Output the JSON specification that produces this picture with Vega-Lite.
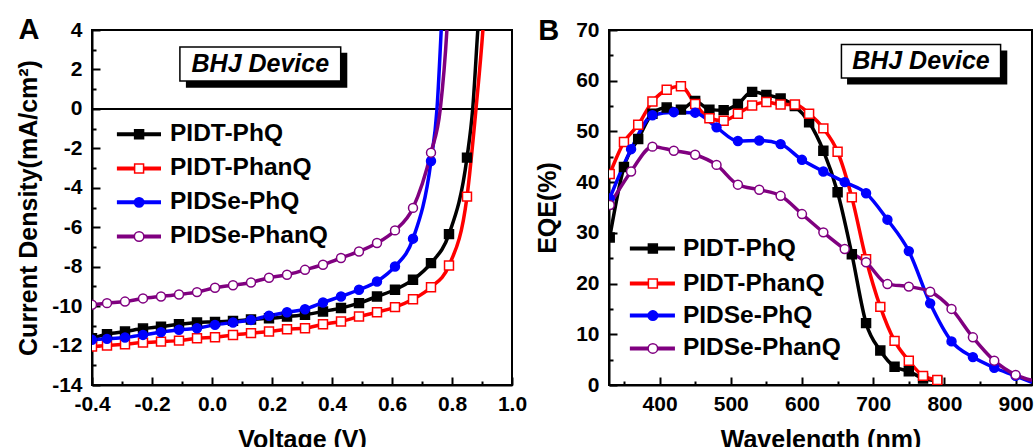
{
  "$schema": "https://vega.github.io/schema/vega-lite/v6.json",
  "background": "white",
  "padding": {"left": 15, "top": 15, "right": 0, "bottom": 0},
  "bounds": "flush",
  "spacing": 97,
  "resolve": {"scale": {"stroke": "independent"}, "legend": {"stroke": "independent"}},
  "config": {
    "font": "Liberation Sans",
    "view": {"stroke": "black", "strokeWidth": 2},
    "axis": {
      "labelFont": "Liberation Sans", "labelFontWeight": "bold", "labelFontSize": 21, "labelColor": "black",
      "titleFont": "Liberation Sans", "titleFontWeight": "bold", "titleFontSize": 25, "titleColor": "black",
      "domainColor": "black", "domainWidth": 2, "tickColor": "black", "tickWidth": 2,
      "grid": false, "labelOverlap": false, "labelFlush": false
    }
  },
  "datasets": {
    "jv": [
      {"series": "PIDT-PhQ", "V": -0.4, "J": -11.63, "marker": 1},
      {"series": "PIDT-PhQ", "V": -0.35, "J": -11.42, "marker": 1},
      {"series": "PIDT-PhQ", "V": -0.29, "J": -11.29, "marker": 1},
      {"series": "PIDT-PhQ", "V": -0.23, "J": -11.14, "marker": 1},
      {"series": "PIDT-PhQ", "V": -0.17, "J": -11.04, "marker": 1},
      {"series": "PIDT-PhQ", "V": -0.11, "J": -10.92, "marker": 1},
      {"series": "PIDT-PhQ", "V": -0.05, "J": -10.83, "marker": 1},
      {"series": "PIDT-PhQ", "V": 0.01, "J": -10.8, "marker": 1},
      {"series": "PIDT-PhQ", "V": 0.07, "J": -10.75, "marker": 1},
      {"series": "PIDT-PhQ", "V": 0.13, "J": -10.68, "marker": 1},
      {"series": "PIDT-PhQ", "V": 0.19, "J": -10.62, "marker": 1},
      {"series": "PIDT-PhQ", "V": 0.25, "J": -10.53, "marker": 1},
      {"series": "PIDT-PhQ", "V": 0.31, "J": -10.44, "marker": 1},
      {"series": "PIDT-PhQ", "V": 0.37, "J": -10.27, "marker": 1},
      {"series": "PIDT-PhQ", "V": 0.43, "J": -10.1, "marker": 1},
      {"series": "PIDT-PhQ", "V": 0.49, "J": -9.85, "marker": 1},
      {"series": "PIDT-PhQ", "V": 0.55, "J": -9.51, "marker": 1},
      {"series": "PIDT-PhQ", "V": 0.61, "J": -9.17, "marker": 1},
      {"series": "PIDT-PhQ", "V": 0.67, "J": -8.66, "marker": 1},
      {"series": "PIDT-PhQ", "V": 0.73, "J": -7.82, "marker": 1},
      {"series": "PIDT-PhQ", "V": 0.79, "J": -6.35, "marker": 1},
      {"series": "PIDT-PhQ", "V": 0.85, "J": -2.47, "marker": 1},
      {"series": "PIDT-PhQ", "V": 0.869, "J": 0, "marker": 0},
      {"series": "PIDT-PhQ", "V": 0.886, "J": 4, "marker": 0},
      {"series": "PIDT-PhQ", "V": 0.895, "J": 6, "marker": 0},
      {"series": "PIDT-PhanQ", "V": -0.4, "J": -12.05, "marker": 1},
      {"series": "PIDT-PhanQ", "V": -0.35, "J": -12.0, "marker": 1},
      {"series": "PIDT-PhanQ", "V": -0.29, "J": -11.93, "marker": 1},
      {"series": "PIDT-PhanQ", "V": -0.23, "J": -11.85, "marker": 1},
      {"series": "PIDT-PhanQ", "V": -0.17, "J": -11.8, "marker": 1},
      {"series": "PIDT-PhanQ", "V": -0.11, "J": -11.75, "marker": 1},
      {"series": "PIDT-PhanQ", "V": -0.05, "J": -11.63, "marker": 1},
      {"series": "PIDT-PhanQ", "V": 0.01, "J": -11.58, "marker": 1},
      {"series": "PIDT-PhanQ", "V": 0.07, "J": -11.46, "marker": 1},
      {"series": "PIDT-PhanQ", "V": 0.13, "J": -11.37, "marker": 1},
      {"series": "PIDT-PhanQ", "V": 0.19, "J": -11.29, "marker": 1},
      {"series": "PIDT-PhanQ", "V": 0.25, "J": -11.17, "marker": 1},
      {"series": "PIDT-PhanQ", "V": 0.31, "J": -11.12, "marker": 1},
      {"series": "PIDT-PhanQ", "V": 0.37, "J": -10.92, "marker": 1},
      {"series": "PIDT-PhanQ", "V": 0.43, "J": -10.78, "marker": 1},
      {"series": "PIDT-PhanQ", "V": 0.49, "J": -10.53, "marker": 1},
      {"series": "PIDT-PhanQ", "V": 0.55, "J": -10.31, "marker": 1},
      {"series": "PIDT-PhanQ", "V": 0.61, "J": -10.05, "marker": 1},
      {"series": "PIDT-PhanQ", "V": 0.67, "J": -9.65, "marker": 1},
      {"series": "PIDT-PhanQ", "V": 0.73, "J": -9.04, "marker": 1},
      {"series": "PIDT-PhanQ", "V": 0.79, "J": -7.94, "marker": 1},
      {"series": "PIDT-PhanQ", "V": 0.85, "J": -4.45, "marker": 1},
      {"series": "PIDT-PhanQ", "V": 0.88, "J": 0, "marker": 0},
      {"series": "PIDT-PhanQ", "V": 0.903, "J": 4, "marker": 0},
      {"series": "PIDT-PhanQ", "V": 0.912, "J": 6, "marker": 0},
      {"series": "PIDSe-PhQ", "V": -0.4, "J": -11.71, "marker": 1},
      {"series": "PIDSe-PhQ", "V": -0.35, "J": -11.66, "marker": 1},
      {"series": "PIDSe-PhQ", "V": -0.29, "J": -11.59, "marker": 1},
      {"series": "PIDSe-PhQ", "V": -0.23, "J": -11.46, "marker": 1},
      {"series": "PIDSe-PhQ", "V": -0.17, "J": -11.32, "marker": 1},
      {"series": "PIDSe-PhQ", "V": -0.11, "J": -11.2, "marker": 1},
      {"series": "PIDSe-PhQ", "V": -0.05, "J": -11.12, "marker": 1},
      {"series": "PIDSe-PhQ", "V": 0.01, "J": -10.95, "marker": 1},
      {"series": "PIDSe-PhQ", "V": 0.07, "J": -10.83, "marker": 1},
      {"series": "PIDSe-PhQ", "V": 0.13, "J": -10.7, "marker": 1},
      {"series": "PIDSe-PhQ", "V": 0.19, "J": -10.49, "marker": 1},
      {"series": "PIDSe-PhQ", "V": 0.25, "J": -10.31, "marker": 1},
      {"series": "PIDSe-PhQ", "V": 0.31, "J": -10.16, "marker": 1},
      {"series": "PIDSe-PhQ", "V": 0.37, "J": -9.82, "marker": 1},
      {"series": "PIDSe-PhQ", "V": 0.43, "J": -9.51, "marker": 1},
      {"series": "PIDSe-PhQ", "V": 0.49, "J": -9.17, "marker": 1},
      {"series": "PIDSe-PhQ", "V": 0.55, "J": -8.75, "marker": 1},
      {"series": "PIDSe-PhQ", "V": 0.61, "J": -7.99, "marker": 1},
      {"series": "PIDSe-PhQ", "V": 0.67, "J": -6.58, "marker": 1},
      {"series": "PIDSe-PhQ", "V": 0.73, "J": -2.64, "marker": 1},
      {"series": "PIDSe-PhQ", "V": 0.75, "J": 0, "marker": 0},
      {"series": "PIDSe-PhQ", "V": 0.764, "J": 4, "marker": 0},
      {"series": "PIDSe-PhQ", "V": 0.77, "J": 6, "marker": 0},
      {"series": "PIDSe-PhanQ", "V": -0.4, "J": -9.93, "marker": 1},
      {"series": "PIDSe-PhanQ", "V": -0.35, "J": -9.85, "marker": 1},
      {"series": "PIDSe-PhanQ", "V": -0.29, "J": -9.77, "marker": 1},
      {"series": "PIDSe-PhanQ", "V": -0.23, "J": -9.61, "marker": 1},
      {"series": "PIDSe-PhanQ", "V": -0.17, "J": -9.51, "marker": 1},
      {"series": "PIDSe-PhanQ", "V": -0.11, "J": -9.41, "marker": 1},
      {"series": "PIDSe-PhanQ", "V": -0.05, "J": -9.29, "marker": 1},
      {"series": "PIDSe-PhanQ", "V": 0.01, "J": -9.07, "marker": 1},
      {"series": "PIDSe-PhanQ", "V": 0.07, "J": -8.94, "marker": 1},
      {"series": "PIDSe-PhanQ", "V": 0.13, "J": -8.8, "marker": 1},
      {"series": "PIDSe-PhanQ", "V": 0.19, "J": -8.56, "marker": 1},
      {"series": "PIDSe-PhanQ", "V": 0.25, "J": -8.41, "marker": 1},
      {"series": "PIDSe-PhanQ", "V": 0.31, "J": -8.16, "marker": 1},
      {"series": "PIDSe-PhanQ", "V": 0.37, "J": -7.9, "marker": 1},
      {"series": "PIDSe-PhanQ", "V": 0.43, "J": -7.56, "marker": 1},
      {"series": "PIDSe-PhanQ", "V": 0.49, "J": -7.23, "marker": 1},
      {"series": "PIDSe-PhanQ", "V": 0.55, "J": -6.8, "marker": 1},
      {"series": "PIDSe-PhanQ", "V": 0.61, "J": -6.16, "marker": 1},
      {"series": "PIDSe-PhanQ", "V": 0.67, "J": -5.02, "marker": 1},
      {"series": "PIDSe-PhanQ", "V": 0.73, "J": -2.22, "marker": 1},
      {"series": "PIDSe-PhanQ", "V": 0.761, "J": 0, "marker": 0},
      {"series": "PIDSe-PhanQ", "V": 0.783, "J": 4, "marker": 0},
      {"series": "PIDSe-PhanQ", "V": 0.79, "J": 6, "marker": 0}
    ],
    "eqe": [
      {"series": "PIDT-PhQ", "nm": 330, "EQE": 29.1, "marker": 1},
      {"series": "PIDT-PhQ", "nm": 350, "EQE": 43.0, "marker": 1},
      {"series": "PIDT-PhQ", "nm": 370, "EQE": 48.5, "marker": 1},
      {"series": "PIDT-PhQ", "nm": 390, "EQE": 53.5, "marker": 1},
      {"series": "PIDT-PhQ", "nm": 410, "EQE": 54.7, "marker": 1},
      {"series": "PIDT-PhQ", "nm": 430, "EQE": 54.3, "marker": 1},
      {"series": "PIDT-PhQ", "nm": 450, "EQE": 56.0, "marker": 1},
      {"series": "PIDT-PhQ", "nm": 470, "EQE": 54.3, "marker": 1},
      {"series": "PIDT-PhQ", "nm": 490, "EQE": 54.2, "marker": 1},
      {"series": "PIDT-PhQ", "nm": 510, "EQE": 55.4, "marker": 1},
      {"series": "PIDT-PhQ", "nm": 530, "EQE": 57.8, "marker": 1},
      {"series": "PIDT-PhQ", "nm": 550, "EQE": 57.2, "marker": 1},
      {"series": "PIDT-PhQ", "nm": 570, "EQE": 56.5, "marker": 1},
      {"series": "PIDT-PhQ", "nm": 590, "EQE": 55.0, "marker": 1},
      {"series": "PIDT-PhQ", "nm": 610, "EQE": 51.8, "marker": 1},
      {"series": "PIDT-PhQ", "nm": 630, "EQE": 46.2, "marker": 1},
      {"series": "PIDT-PhQ", "nm": 650, "EQE": 38.0, "marker": 1},
      {"series": "PIDT-PhQ", "nm": 670, "EQE": 25.8, "marker": 1},
      {"series": "PIDT-PhQ", "nm": 690, "EQE": 12.2, "marker": 1},
      {"series": "PIDT-PhQ", "nm": 710, "EQE": 6.8, "marker": 1},
      {"series": "PIDT-PhQ", "nm": 730, "EQE": 3.6, "marker": 1},
      {"series": "PIDT-PhQ", "nm": 750, "EQE": 2.7, "marker": 1},
      {"series": "PIDT-PhQ", "nm": 770, "EQE": 1.3, "marker": 1},
      {"series": "PIDT-PhQ", "nm": 790, "EQE": 0.8, "marker": 1},
      {"series": "PIDT-PhanQ", "nm": 330, "EQE": 41.6, "marker": 1},
      {"series": "PIDT-PhanQ", "nm": 350, "EQE": 47.9, "marker": 1},
      {"series": "PIDT-PhanQ", "nm": 370, "EQE": 51.3, "marker": 1},
      {"series": "PIDT-PhanQ", "nm": 390, "EQE": 55.9, "marker": 1},
      {"series": "PIDT-PhanQ", "nm": 410, "EQE": 58.2, "marker": 1},
      {"series": "PIDT-PhanQ", "nm": 430, "EQE": 58.9, "marker": 1},
      {"series": "PIDT-PhanQ", "nm": 450, "EQE": 55.4, "marker": 1},
      {"series": "PIDT-PhanQ", "nm": 470, "EQE": 52.6, "marker": 1},
      {"series": "PIDT-PhanQ", "nm": 490, "EQE": 52.1, "marker": 1},
      {"series": "PIDT-PhanQ", "nm": 510, "EQE": 53.5, "marker": 1},
      {"series": "PIDT-PhanQ", "nm": 530, "EQE": 55.1, "marker": 1},
      {"series": "PIDT-PhanQ", "nm": 550, "EQE": 55.8, "marker": 1},
      {"series": "PIDT-PhanQ", "nm": 570, "EQE": 55.3, "marker": 1},
      {"series": "PIDT-PhanQ", "nm": 590, "EQE": 55.3, "marker": 1},
      {"series": "PIDT-PhanQ", "nm": 610, "EQE": 53.5, "marker": 1},
      {"series": "PIDT-PhanQ", "nm": 630, "EQE": 50.6, "marker": 1},
      {"series": "PIDT-PhanQ", "nm": 650, "EQE": 46.0, "marker": 1},
      {"series": "PIDT-PhanQ", "nm": 670, "EQE": 37.0, "marker": 1},
      {"series": "PIDT-PhanQ", "nm": 690, "EQE": 24.8, "marker": 1},
      {"series": "PIDT-PhanQ", "nm": 710, "EQE": 15.4, "marker": 1},
      {"series": "PIDT-PhanQ", "nm": 730, "EQE": 8.7, "marker": 1},
      {"series": "PIDT-PhanQ", "nm": 750, "EQE": 4.8, "marker": 1},
      {"series": "PIDT-PhanQ", "nm": 770, "EQE": 1.8, "marker": 1},
      {"series": "PIDT-PhanQ", "nm": 790, "EQE": 1.0, "marker": 1},
      {"series": "PIDSe-PhQ", "nm": 330, "EQE": 36.8, "marker": 1},
      {"series": "PIDSe-PhQ", "nm": 360, "EQE": 46.5, "marker": 1},
      {"series": "PIDSe-PhQ", "nm": 390, "EQE": 53.2, "marker": 1},
      {"series": "PIDSe-PhQ", "nm": 420, "EQE": 53.8, "marker": 1},
      {"series": "PIDSe-PhQ", "nm": 450, "EQE": 53.7, "marker": 1},
      {"series": "PIDSe-PhQ", "nm": 480, "EQE": 50.8, "marker": 1},
      {"series": "PIDSe-PhQ", "nm": 510, "EQE": 48.1, "marker": 1},
      {"series": "PIDSe-PhQ", "nm": 540, "EQE": 48.2, "marker": 1},
      {"series": "PIDSe-PhQ", "nm": 570, "EQE": 47.5, "marker": 1},
      {"series": "PIDSe-PhQ", "nm": 600, "EQE": 44.4, "marker": 1},
      {"series": "PIDSe-PhQ", "nm": 630, "EQE": 42.1, "marker": 1},
      {"series": "PIDSe-PhQ", "nm": 660, "EQE": 40.0, "marker": 1},
      {"series": "PIDSe-PhQ", "nm": 690, "EQE": 37.8, "marker": 1},
      {"series": "PIDSe-PhQ", "nm": 720, "EQE": 32.6, "marker": 1},
      {"series": "PIDSe-PhQ", "nm": 750, "EQE": 26.4, "marker": 1},
      {"series": "PIDSe-PhQ", "nm": 780, "EQE": 16.1, "marker": 1},
      {"series": "PIDSe-PhQ", "nm": 810, "EQE": 8.6, "marker": 1},
      {"series": "PIDSe-PhQ", "nm": 840, "EQE": 5.5, "marker": 1},
      {"series": "PIDSe-PhQ", "nm": 870, "EQE": 3.4, "marker": 1},
      {"series": "PIDSe-PhQ", "nm": 900, "EQE": 1.8, "marker": 1},
      {"series": "PIDSe-PhQ", "nm": 923, "EQE": 0.5, "marker": 0},
      {"series": "PIDSe-PhanQ", "nm": 330, "EQE": 35.5, "marker": 1},
      {"series": "PIDSe-PhanQ", "nm": 360, "EQE": 42.1, "marker": 1},
      {"series": "PIDSe-PhanQ", "nm": 390, "EQE": 47.0, "marker": 1},
      {"series": "PIDSe-PhanQ", "nm": 420, "EQE": 46.2, "marker": 1},
      {"series": "PIDSe-PhanQ", "nm": 450, "EQE": 45.4, "marker": 1},
      {"series": "PIDSe-PhanQ", "nm": 480, "EQE": 43.4, "marker": 1},
      {"series": "PIDSe-PhanQ", "nm": 510, "EQE": 39.5, "marker": 1},
      {"series": "PIDSe-PhanQ", "nm": 540, "EQE": 38.5, "marker": 1},
      {"series": "PIDSe-PhanQ", "nm": 570, "EQE": 37.3, "marker": 1},
      {"series": "PIDSe-PhanQ", "nm": 600, "EQE": 33.7, "marker": 1},
      {"series": "PIDSe-PhanQ", "nm": 630, "EQE": 30.1, "marker": 1},
      {"series": "PIDSe-PhanQ", "nm": 660, "EQE": 26.8, "marker": 1},
      {"series": "PIDSe-PhanQ", "nm": 690, "EQE": 24.2, "marker": 1},
      {"series": "PIDSe-PhanQ", "nm": 720, "EQE": 19.9, "marker": 1},
      {"series": "PIDSe-PhanQ", "nm": 750, "EQE": 19.4, "marker": 1},
      {"series": "PIDSe-PhanQ", "nm": 780, "EQE": 18.4, "marker": 1},
      {"series": "PIDSe-PhanQ", "nm": 810, "EQE": 15.0, "marker": 1},
      {"series": "PIDSe-PhanQ", "nm": 840, "EQE": 9.4, "marker": 1},
      {"series": "PIDSe-PhanQ", "nm": 870, "EQE": 4.8, "marker": 1},
      {"series": "PIDSe-PhanQ", "nm": 900, "EQE": 2.0, "marker": 1},
      {"series": "PIDSe-PhanQ", "nm": 923, "EQE": 0.9, "marker": 0}
    ]
  },
  "hconcat": [
    {
      "width": 420,
      "height": 355,
      "layer": [
        {
          "data": {"values": [{}]},
          "mark": {"type": "rule", "color": "black", "strokeWidth": 2},
          "encoding": {"y": {"datum": 0, "type": "quantitative"}}
        },
        {
          "data": {"values": [{}]},
          "mark": {"type": "rect", "fill": "black"},
          "encoding": {
            "x": {"datum": -0.087, "type": "quantitative"}, "x2": {"datum": 0.451},
            "y": {"datum": 1.07, "type": "quantitative"}, "y2": {"datum": 2.85}
          }
        },
        {
          "data": {"values": [{}]},
          "mark": {"type": "rect", "fill": "white", "stroke": "black", "strokeWidth": 1.5},
          "encoding": {
            "x": {"datum": -0.107, "type": "quantitative"}, "x2": {"datum": 0.429},
            "y": {"datum": 1.41, "type": "quantitative"}, "y2": {"datum": 3.14}
          }
        },
        {
          "data": {"values": [{}]},
          "mark": {"type": "text", "text": "BHJ Device", "font": "Liberation Sans", "fontSize": 25, "fontWeight": "bold", "fontStyle": "italic", "color": "black", "align": "center", "baseline": "middle"},
          "encoding": {
            "x": {"datum": 0.161, "type": "quantitative"},
            "y": {"datum": 2.27, "type": "quantitative"}
          }
        },
        {
          "data": {"values": [{}]},
          "mark": {"type": "text", "text": "A", "font": "Liberation Sans", "fontSize": 29, "fontWeight": "bold", "color": "black", "align": "center", "baseline": "middle"},
          "encoding": {
            "x": {"datum": -0.61, "type": "quantitative"},
            "y": {"datum": 4.0, "type": "quantitative"}
          }
        },
        {
          "data": {"values": [{}]},
          "mark": {"type": "rule", "color": "black", "strokeWidth": 4},
          "encoding": {"x": {"datum": -0.317, "type": "quantitative"}, "x2": {"datum": -0.17}, "y": {"datum": -1.29, "type": "quantitative"}}
        },
        {
          "data": {"values": [{}]},
          "mark": {"type": "point", "shape": "square", "filled": true, "fill": "black", "stroke": "black", "strokeWidth": 1.5, "size": 80, "opacity": 1},
          "encoding": {"x": {"datum": -0.243, "type": "quantitative"}, "y": {"datum": -1.29, "type": "quantitative"}}
        },
        {
          "data": {"values": [{}]},
          "mark": {"type": "text", "text": "PIDT-PhQ", "font": "Liberation Sans", "fontSize": 24.5, "fontWeight": "bold", "color": "black", "align": "left", "baseline": "middle"},
          "encoding": {"x": {"datum": -0.14, "type": "quantitative"}, "y": {"datum": -1.29, "type": "quantitative"}}
        },
        {
          "data": {"values": [{}]},
          "mark": {"type": "rule", "color": "#ff0000", "strokeWidth": 4},
          "encoding": {"x": {"datum": -0.317, "type": "quantitative"}, "x2": {"datum": -0.17}, "y": {"datum": -3.02, "type": "quantitative"}}
        },
        {
          "data": {"values": [{}]},
          "mark": {"type": "point", "shape": "square", "filled": true, "fill": "white", "stroke": "#ff0000", "strokeWidth": 1.5, "size": 80, "opacity": 1},
          "encoding": {"x": {"datum": -0.243, "type": "quantitative"}, "y": {"datum": -3.02, "type": "quantitative"}}
        },
        {
          "data": {"values": [{}]},
          "mark": {"type": "text", "text": "PIDT-PhanQ", "font": "Liberation Sans", "fontSize": 24.5, "fontWeight": "bold", "color": "black", "align": "left", "baseline": "middle"},
          "encoding": {"x": {"datum": -0.14, "type": "quantitative"}, "y": {"datum": -3.02, "type": "quantitative"}}
        },
        {
          "data": {"values": [{}]},
          "mark": {"type": "rule", "color": "#0000ff", "strokeWidth": 4},
          "encoding": {"x": {"datum": -0.317, "type": "quantitative"}, "x2": {"datum": -0.17}, "y": {"datum": -4.74, "type": "quantitative"}}
        },
        {
          "data": {"values": [{}]},
          "mark": {"type": "point", "shape": "circle", "filled": true, "fill": "#0000ff", "stroke": "#0000ff", "strokeWidth": 1.5, "size": 90, "opacity": 1},
          "encoding": {"x": {"datum": -0.243, "type": "quantitative"}, "y": {"datum": -4.74, "type": "quantitative"}}
        },
        {
          "data": {"values": [{}]},
          "mark": {"type": "text", "text": "PIDSe-PhQ", "font": "Liberation Sans", "fontSize": 24.5, "fontWeight": "bold", "color": "black", "align": "left", "baseline": "middle"},
          "encoding": {"x": {"datum": -0.14, "type": "quantitative"}, "y": {"datum": -4.74, "type": "quantitative"}}
        },
        {
          "data": {"values": [{}]},
          "mark": {"type": "rule", "color": "#800080", "strokeWidth": 4},
          "encoding": {"x": {"datum": -0.317, "type": "quantitative"}, "x2": {"datum": -0.17}, "y": {"datum": -6.47, "type": "quantitative"}}
        },
        {
          "data": {"values": [{}]},
          "mark": {"type": "point", "shape": "circle", "filled": true, "fill": "white", "stroke": "#800080", "strokeWidth": 1.5, "size": 90, "opacity": 1},
          "encoding": {"x": {"datum": -0.243, "type": "quantitative"}, "y": {"datum": -6.47, "type": "quantitative"}}
        },
        {
          "data": {"values": [{}]},
          "mark": {"type": "text", "text": "PIDSe-PhanQ", "font": "Liberation Sans", "fontSize": 24.5, "fontWeight": "bold", "color": "black", "align": "left", "baseline": "middle"},
          "encoding": {"x": {"datum": -0.14, "type": "quantitative"}, "y": {"datum": -6.47, "type": "quantitative"}}
        },
        {
          "data": {"name": "jv"},
          "mark": {"type": "line", "strokeWidth": 3.5, "interpolate": "monotone", "clip": true},
          "encoding": {
            "x": {"field": "V", "type": "quantitative", "scale": {"domain": [-0.4, 1.0], "nice": false, "zero": false},
              "axis": {
                "title": "Voltage (V)",
                "values": [-0.4, -0.3, -0.2, -0.1, 0.0, 0.1, 0.2, 0.3, 0.4, 0.5, 0.6, 0.7, 0.8, 0.9, 1.0],
                "tickCount": 100,
                "labelExpr": "round(datum.value*10) % 2 == 0 ? (datum.value < -0.01 ? '-' : '') + format(abs(datum.value), '.1f') : ''",
                "tickSize": {"condition": {"test": "round(datum.value*10) % 2 == 0", "value": -8}, "value": -4},
                "labelOverlap": false, "labelPadding": 16, "titlePadding": 9
              }
            },
            "y": {"field": "J", "type": "quantitative", "scale": {"domain": [-14, 4], "nice": false, "zero": false},
              "axis": {
                "title": "Current Density(mA/cm²)",
                "values": [-14, -13, -12, -11, -10, -9, -8, -7, -6, -5, -4, -3, -2, -1, 0, 1, 2, 3, 4],
                "tickCount": 100,
                "labelExpr": "datum.value % 2 == 0 ? '' + datum.value : ''",
                "tickSize": {"condition": {"test": "datum.value % 2 == 0", "value": -8}, "value": -4},
                "labelOverlap": false, "labelPadding": 18, "titlePadding": 10
              }
            },
            "stroke": {"field": "series", "type": "nominal",
              "scale": {"domain": ["PIDT-PhQ", "PIDT-PhanQ", "PIDSe-PhQ", "PIDSe-PhanQ"], "range": ["black", "#ff0000", "#0000ff", "#800080"]},
              "legend": null
            },
            "detail": {"field": "series"},
            "order": {"field": "V", "type": "quantitative"}
          }
        },
        {
          "data": {"name": "jv"},
          "transform": [{"filter": "datum.marker == 1"}],
          "mark": {"type": "point", "filled": true, "size": 80, "strokeWidth": 1.5, "opacity": 1, "clip": true},
          "encoding": {
            "x": {"field": "V", "type": "quantitative"},
            "y": {"field": "J", "type": "quantitative"},
            "stroke": {"field": "series", "type": "nominal", "legend": null},
            "fill": {"field": "series", "type": "nominal", "legend": null,
              "scale": {"domain": ["PIDT-PhQ", "PIDT-PhanQ", "PIDSe-PhQ", "PIDSe-PhanQ"], "range": ["black", "white", "#0000ff", "white"]}},
            "shape": {"field": "series", "type": "nominal", "legend": null,
              "scale": {"domain": ["PIDT-PhQ", "PIDT-PhanQ", "PIDSe-PhQ", "PIDSe-PhanQ"], "range": ["square", "square", "circle", "circle"]}}
          }
        }
      ]
    },
    {
      "width": 423,
      "height": 355,
      "layer": [
        {
          "data": {"values": [{}]},
          "mark": {"type": "rect", "fill": "black"},
          "encoding": {
            "x": {"datum": 663.3, "type": "quantitative"}, "x2": {"datum": 888.3},
            "y": {"datum": 59.24, "type": "quantitative"}, "y2": {"datum": 65.94}
          }
        },
        {
          "data": {"values": [{}]},
          "mark": {"type": "rect", "fill": "white", "stroke": "black", "strokeWidth": 1.5},
          "encoding": {
            "x": {"datum": 655.4, "type": "quantitative"}, "x2": {"datum": 878.9},
            "y": {"datum": 60.55, "type": "quantitative"}, "y2": {"datum": 67.13}
          }
        },
        {
          "data": {"values": [{}]},
          "mark": {"type": "text", "text": "BHJ Device", "font": "Liberation Sans", "fontSize": 25, "fontWeight": "bold", "fontStyle": "italic", "color": "black", "align": "center", "baseline": "middle"},
          "encoding": {
            "x": {"datum": 767, "type": "quantitative"},
            "y": {"datum": 63.8, "type": "quantitative"}
          }
        },
        {
          "data": {"values": [{}]},
          "mark": {"type": "text", "text": "B", "font": "Liberation Sans", "fontSize": 29, "fontWeight": "bold", "color": "black", "align": "center", "baseline": "middle"},
          "encoding": {
            "x": {"datum": 244.4, "type": "quantitative"},
            "y": {"datum": 69.9, "type": "quantitative"}
          }
        },
        {
          "data": {"values": [{}]},
          "mark": {"type": "rule", "color": "black", "strokeWidth": 4},
          "encoding": {"x": {"datum": 358.3, "type": "quantitative"}, "x2": {"datum": 421.6}, "y": {"datum": 26.9, "type": "quantitative"}}
        },
        {
          "data": {"values": [{}]},
          "mark": {"type": "point", "shape": "square", "filled": true, "fill": "black", "stroke": "black", "strokeWidth": 1.5, "size": 80, "opacity": 1},
          "encoding": {"x": {"datum": 390.6, "type": "quantitative"}, "y": {"datum": 26.9, "type": "quantitative"}}
        },
        {
          "data": {"values": [{}]},
          "mark": {"type": "text", "text": "PIDT-PhQ", "font": "Liberation Sans", "fontSize": 24.5, "fontWeight": "bold", "color": "black", "align": "left", "baseline": "middle"},
          "encoding": {"x": {"datum": 432.8, "type": "quantitative"}, "y": {"datum": 26.9, "type": "quantitative"}}
        },
        {
          "data": {"values": [{}]},
          "mark": {"type": "rule", "color": "#ff0000", "strokeWidth": 4},
          "encoding": {"x": {"datum": 358.3, "type": "quantitative"}, "x2": {"datum": 421.6}, "y": {"datum": 20.0, "type": "quantitative"}}
        },
        {
          "data": {"values": [{}]},
          "mark": {"type": "point", "shape": "square", "filled": true, "fill": "white", "stroke": "#ff0000", "strokeWidth": 1.5, "size": 80, "opacity": 1},
          "encoding": {"x": {"datum": 390.6, "type": "quantitative"}, "y": {"datum": 20.0, "type": "quantitative"}}
        },
        {
          "data": {"values": [{}]},
          "mark": {"type": "text", "text": "PIDT-PhanQ", "font": "Liberation Sans", "fontSize": 24.5, "fontWeight": "bold", "color": "black", "align": "left", "baseline": "middle"},
          "encoding": {"x": {"datum": 432.8, "type": "quantitative"}, "y": {"datum": 20.0, "type": "quantitative"}}
        },
        {
          "data": {"values": [{}]},
          "mark": {"type": "rule", "color": "#0000ff", "strokeWidth": 4},
          "encoding": {"x": {"datum": 358.3, "type": "quantitative"}, "x2": {"datum": 421.6}, "y": {"datum": 13.7, "type": "quantitative"}}
        },
        {
          "data": {"values": [{}]},
          "mark": {"type": "point", "shape": "circle", "filled": true, "fill": "#0000ff", "stroke": "#0000ff", "strokeWidth": 1.5, "size": 90, "opacity": 1},
          "encoding": {"x": {"datum": 390.6, "type": "quantitative"}, "y": {"datum": 13.7, "type": "quantitative"}}
        },
        {
          "data": {"values": [{}]},
          "mark": {"type": "text", "text": "PIDSe-PhQ", "font": "Liberation Sans", "fontSize": 24.5, "fontWeight": "bold", "color": "black", "align": "left", "baseline": "middle"},
          "encoding": {"x": {"datum": 432.8, "type": "quantitative"}, "y": {"datum": 13.7, "type": "quantitative"}}
        },
        {
          "data": {"values": [{}]},
          "mark": {"type": "rule", "color": "#800080", "strokeWidth": 4},
          "encoding": {"x": {"datum": 358.3, "type": "quantitative"}, "x2": {"datum": 421.6}, "y": {"datum": 7.2, "type": "quantitative"}}
        },
        {
          "data": {"values": [{}]},
          "mark": {"type": "point", "shape": "circle", "filled": true, "fill": "white", "stroke": "#800080", "strokeWidth": 1.5, "size": 90, "opacity": 1},
          "encoding": {"x": {"datum": 390.6, "type": "quantitative"}, "y": {"datum": 7.2, "type": "quantitative"}}
        },
        {
          "data": {"values": [{}]},
          "mark": {"type": "text", "text": "PIDSe-PhanQ", "font": "Liberation Sans", "fontSize": 24.5, "fontWeight": "bold", "color": "black", "align": "left", "baseline": "middle"},
          "encoding": {"x": {"datum": 432.8, "type": "quantitative"}, "y": {"datum": 7.2, "type": "quantitative"}}
        },
        {
          "data": {"name": "eqe"},
          "mark": {"type": "line", "strokeWidth": 3.5, "interpolate": "monotone", "clip": true},
          "encoding": {
            "x": {"field": "nm", "type": "quantitative", "scale": {"domain": [329, 923], "nice": false, "zero": false},
              "axis": {
                "title": "Wavelength (nm)",
                "values": [350, 400, 450, 500, 550, 600, 650, 700, 750, 800, 850, 900],
                "tickCount": 100,
                "labelExpr": "datum.value % 100 == 0 ? '' + datum.value : ''",
                "tickSize": {"condition": {"test": "datum.value % 100 == 0", "value": -8}, "value": -4},
                "labelOverlap": false, "labelPadding": 16, "titlePadding": 9
              }
            },
            "y": {"field": "EQE", "type": "quantitative", "scale": {"domain": [0, 70], "nice": false, "zero": false},
              "axis": {
                "title": "EQE(%)",
                "values": [0, 5, 10, 15, 20, 25, 30, 35, 40, 45, 50, 55, 60, 65, 70],
                "tickCount": 100,
                "labelExpr": "datum.value % 10 == 0 ? '' + datum.value : ''",
                "tickSize": {"condition": {"test": "datum.value % 10 == 0", "value": -8}, "value": -4},
                "labelOverlap": false, "labelPadding": 18, "titlePadding": 15
              }
            },
            "stroke": {"field": "series", "type": "nominal",
              "scale": {"domain": ["PIDT-PhQ", "PIDT-PhanQ", "PIDSe-PhQ", "PIDSe-PhanQ"], "range": ["black", "#ff0000", "#0000ff", "#800080"]},
              "legend": null
            },
            "detail": {"field": "series"},
            "order": {"field": "nm", "type": "quantitative"}
          }
        },
        {
          "data": {"name": "eqe"},
          "transform": [{"filter": "datum.marker == 1"}],
          "mark": {"type": "point", "filled": true, "size": 80, "strokeWidth": 1.5, "opacity": 1, "clip": true},
          "encoding": {
            "x": {"field": "nm", "type": "quantitative"},
            "y": {"field": "EQE", "type": "quantitative"},
            "stroke": {"field": "series", "type": "nominal", "legend": null},
            "fill": {"field": "series", "type": "nominal", "legend": null,
              "scale": {"domain": ["PIDT-PhQ", "PIDT-PhanQ", "PIDSe-PhQ", "PIDSe-PhanQ"], "range": ["black", "white", "#0000ff", "white"]}},
            "shape": {"field": "series", "type": "nominal", "legend": null,
              "scale": {"domain": ["PIDT-PhQ", "PIDT-PhanQ", "PIDSe-PhQ", "PIDSe-PhanQ"], "range": ["square", "square", "circle", "circle"]}}
          }
        }
      ]
    }
  ]
}
